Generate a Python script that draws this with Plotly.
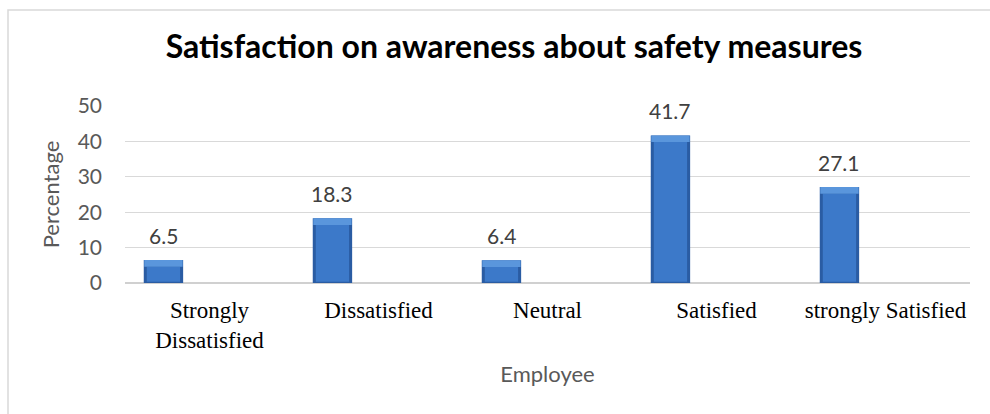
import plotly.graph_objects as go

# Survey results
categories = ["Strongly<br>Dissatisfied", "Dissatisfied", "Neutral", "Satisfied", "strongly Satisfied"]
percentages = [6.5, 18.3, 6.4, 41.7, 27.1]
y_ticks = [0, 10, 20, 30, 40, 50]

title_text = "Satisfaction on awareness about safety measures"
x_title = "Employee"
y_title = "Percentage"

# bar geometry (category units) and bevel depth (value units)
bar_width = 0.233
bar_offset = -0.389
inset = 0.018
cap_depth = 1.9
cat_px = 845 / len(categories)  # pixel width of one category slot

sans = "Lato, 'Open Sans', sans-serif"
serif = "'Liberation Serif', 'Times New Roman', serif"

fig = go.Figure()

# dark shell of each bar
fig.add_trace(go.Bar(
    x=categories, y=percentages,
    width=bar_width, offset=bar_offset,
    marker=dict(color="#2a5ca3", line=dict(width=0)),
    showlegend=False, hoverinfo="skip",
))

# lighter face inset from the sides
fig.add_trace(go.Bar(
    x=categories,
    y=[v - cap_depth - 0.35 for v in percentages],
    base=[0.35] * len(percentages),
    width=bar_width - 2 * inset, offset=bar_offset + inset,
    marker=dict(color="#3c79c9", line=dict(width=0)),
    showlegend=False, hoverinfo="skip",
))

# highlighted top bevel
fig.add_trace(go.Bar(
    x=categories,
    y=[cap_depth] * len(percentages),
    base=[v - cap_depth for v in percentages],
    width=bar_width - 0.006, offset=bar_offset + 0.003,
    marker=dict(color="#5a96dc", line=dict(width=0)),
    showlegend=False, hoverinfo="skip",
))

# value labels above each bar
label_shift = (bar_offset + bar_width / 2) * cat_px
annotations = [
    dict(x=c, y=v, xref="x", yref="y", text=f"{v:.1f}",
         showarrow=False, xanchor="center", yanchor="bottom",
         xshift=label_shift, yshift=10,
         font=dict(family=sans, size=21, color="#404040"))
    for c, v in zip(categories, percentages)
]

fig.update_layout(
    width=990, height=414,
    margin=dict(l=125, r=20, t=106, b=131),
    paper_bgcolor="white", plot_bgcolor="white",
    barmode="overlay",
    title=dict(
        text=f"<b>{title_text}</b>",
        x=514 / 990, xanchor="center", xref="container",
        y=1 - 47 / 414, yanchor="middle", yref="container",
        font=dict(family=sans, size=32, color="#000000"),
    ),
    xaxis=dict(
        type="category",
        range=[-0.5, len(categories) - 0.5],
        showgrid=False, showline=False, zeroline=False,
        ticks="", ticklabelstandoff=11,
        tickfont=dict(family=serif, size=23, color="#000000"),
        title=dict(text=x_title, standoff=14,
                   font=dict(family=sans, size=22, color="#595959")),
    ),
    yaxis=dict(
        range=[0, 50],
        tickvals=y_ticks,
        showgrid=True, gridcolor="#d9d9d9", gridwidth=1.3,
        zeroline=True, zerolinecolor="#d0d0d0", zerolinewidth=1.6,
        showline=False, ticks="", ticklabelstandoff=22,
        tickfont=dict(family=sans, size=21, color="#595959"),
        title=dict(text=y_title, standoff=11,
                   font=dict(family=sans, size=22, color="#595959")),
    ),
    annotations=annotations,
    shapes=[dict(
        type="rect", xref="paper", yref="paper",
        x0=(8 - 125) / 845, x1=(1005 - 125) / 845,
        y0=(283 - 430) / 177, y1=(283 - 10) / 177,
        line=dict(color="#d9d9d9", width=1.5),
        fillcolor="rgba(0,0,0,0)", layer="below",
    )],
)

fig.write_html("out.html")
